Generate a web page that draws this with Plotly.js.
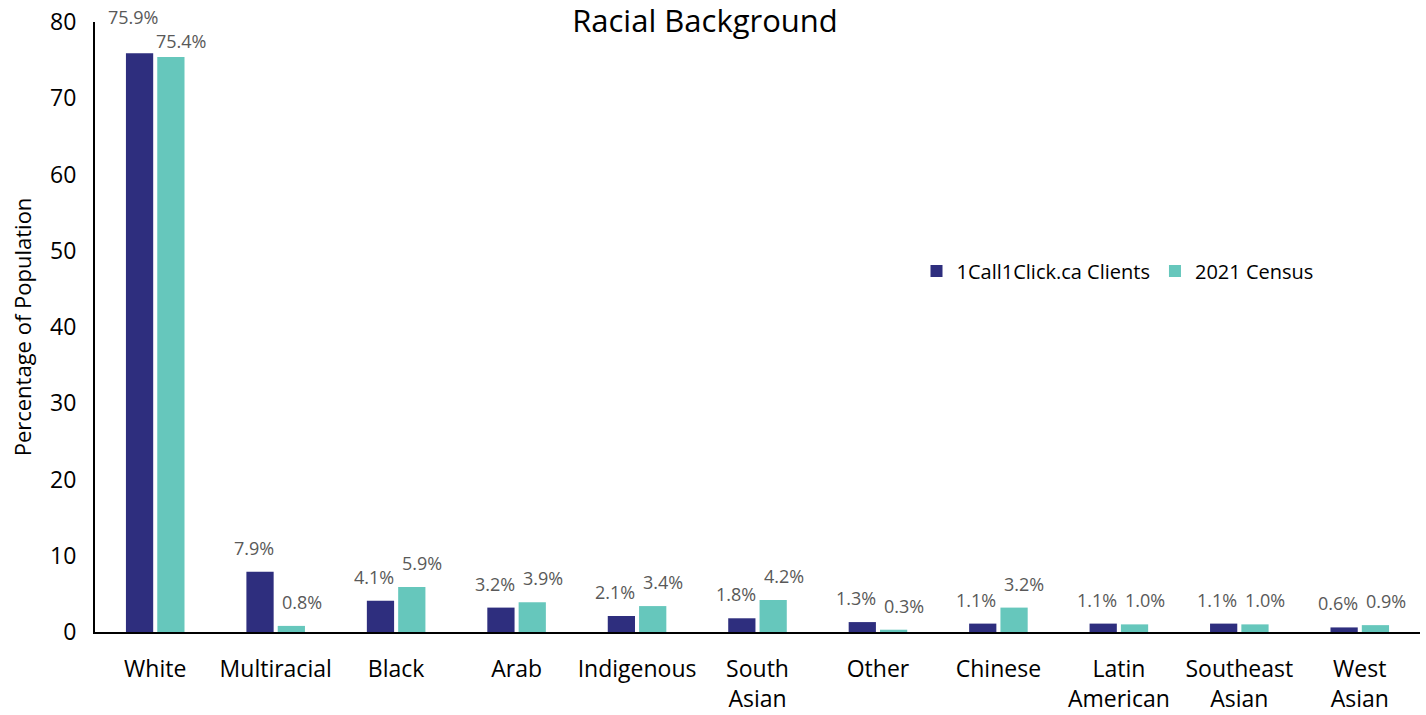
<!DOCTYPE html>
<html><head><meta charset="utf-8">
<script src="https://cdn.plot.ly/plotly-3.0.1.min.js"></script>
<style>html,body{margin:0;padding:0;background:#fff}#chart{width:1426px;height:715px}</style>
</head><body><div id="chart"></div>
<script>
const categories = ["White","Multiracial","Black","Arab","Indigenous","South<br>Asian","Other","Chinese","Latin<br>American","Southeast<br>Asian","West<br>Asian"];
const clients = [75.9,7.9,4.1,3.2,2.1,1.8,1.3,1.1,1.1,1.1,0.6];
const census = [75.4,0.8,5.9,3.9,3.4,4.2,0.3,3.2,1.0,1.0,0.9];
const seriesNames = ["1Call1Click.ca Clients","2021 Census"];
const fontFam = "Open Sans, Noto Sans, sans-serif";
const fmt = v => v.toFixed(1) + "%";
const traces = [
  {type:"bar", name:seriesNames[0], x:categories, y:clients, marker:{color:"#2E2E7E"}, cliponaxis:false},
  {type:"bar", name:seriesNames[1], x:categories, y:census, marker:{color:"#66C7BC"}, cliponaxis:false}
];
const labelFont = {color:"#595959", size:18, family:fontFam};
const annotations = [];
categories.forEach((c, i) => {
  // when the two values are almost equal and tall, stagger the labels vertically (as in the source chart)
  const tallPair = Math.abs(clients[i] - census[i]) < 1 && clients[i] > 10;
  annotations.push({x:c, y:clients[i], xref:"x", yref:"y", text:fmt(clients[i]), showarrow:false,
    xanchor:"center", yanchor:"bottom", xshift:-22, yshift:tallPair ? 22 : 10, font:labelFont});
  annotations.push({x:c, y:census[i], xref:"x", yref:"y", text:fmt(census[i]), showarrow:false,
    xanchor:"center", yanchor:"bottom", xshift:26, yshift:tallPair ? 2 : 10, font:labelFont});
});
const layout = {
  width:1426, height:715,
  margin:{l:95, r:6, t:22, b:83},
  paper_bgcolor:"#fff", plot_bgcolor:"#fff",
  font:{family:fontFam, color:"#000", size:22},
  title:{text:"Racial Background", x:705/1426, xref:"container", y:0.97, yanchor:"middle", font:{size:31, color:"#000", family:fontFam}},
  barmode:"group", bargap:0.48, bargroupgap:0.13,
  xaxis:{showline:true, linecolor:"#000", linewidth:2, ticks:"", tickfont:{size:23}, showgrid:false, ticklabelstandoff:15},
  yaxis:{range:[0,80], dtick:10, showline:true, linecolor:"#000", linewidth:2, ticks:"", showgrid:false, zeroline:false,
         tickfont:{size:23}, ticklabelstandoff:12, title:{text:"Percentage of Population", font:{size:22}, standoff:12}},
  legend:{orientation:"h", x:0.62, y:0.592, xanchor:"left", yanchor:"middle", font:{size:20}, bgcolor:"rgba(0,0,0,0)"},
  annotations: annotations,
  showlegend:true
};
Plotly.newPlot("chart", traces, layout, {displayModeBar:false});
</script></body></html>
